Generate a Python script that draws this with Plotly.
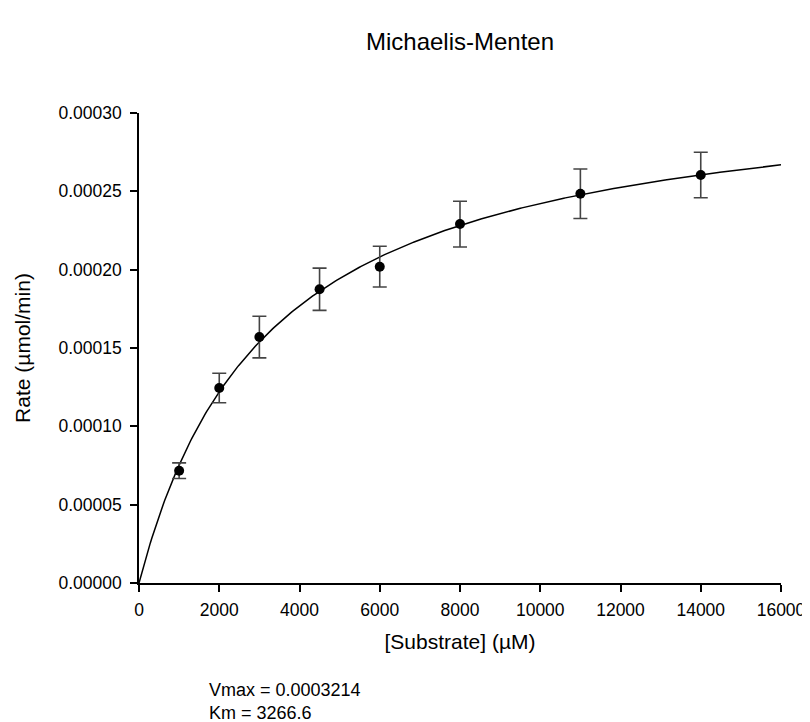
import plotly.graph_objects as go

# Data
substrate = [1000, 2000, 3000, 4500, 6000, 8000, 11000, 14000]
rate = [0.0000717, 0.0001245, 0.0001570, 0.0001875, 0.0002019, 0.0002291, 0.0002485, 0.0002604]
rate_err = [0.0000050, 0.0000094, 0.0000133, 0.0000135, 0.0000130, 0.0000146, 0.0000158, 0.0000145]

# Fitted Michaelis-Menten parameters (shown on the chart)
VMAX = 0.0003214
KM = 3266.6

x_ticks = [0, 2000, 4000, 6000, 8000, 10000, 12000, 14000, 16000]
y_ticks = [0.0, 0.00005, 0.00010, 0.00015, 0.00020, 0.00025, 0.00030]

# Fitted curve over the x-axis range
n = 400
fit_x = [16000 * i / (n - 1) for i in range(n)]
fit_y = [VMAX * s / (KM + s) for s in fit_x]

FONT = "Arial, Liberation Sans, sans-serif"

fig = go.Figure()
fig.add_trace(go.Scatter(
    x=fit_x, y=fit_y, mode="lines",
    line=dict(color="black", width=1.5),
    hoverinfo="skip", showlegend=False, cliponaxis=False,
))
fig.add_trace(go.Scatter(
    x=substrate, y=rate, mode="markers",
    marker=dict(color="black", size=10),
    error_y=dict(type="data", array=rate_err, visible=True,
                 color="#444444", thickness=1.6, width=7),
    showlegend=False, cliponaxis=False,
))

fig.update_layout(
    width=810, height=722,
    margin=dict(l=131, r=28, t=105, b=147),
    paper_bgcolor="white", plot_bgcolor="white",
    font=dict(family=FONT, color="black", size=17.5),
    title=dict(text="Michaelis-Menten", x=0.5, xref="paper", xanchor="center",
               y=1 - 34 / 722, yref="container", yanchor="middle",
               font=dict(family=FONT, size=24, color="black")),
    showlegend=False,
    annotations=[
        dict(text="Vmax = 0.0003214<br>Km = 3266.6", xref="paper", yref="paper",
             x=(200 - 131) / 651, y=(575 - 693) / 470, xanchor="left", yanchor="middle",
             align="left", showarrow=False, font=dict(family=FONT, size=18, color="black")),
    ],
)

fig.update_xaxes(
    range=[0, 16000], tickvals=x_ticks, ticktext=[str(v) for v in x_ticks],
    showgrid=False, zeroline=False, showline=True, linecolor="black", linewidth=1.5,
    ticks="outside", ticklen=7, tickwidth=1.5, tickcolor="black",
    tickfont=dict(size=17.5), ticklabelstandoff=3,
    title=dict(text="[Substrate] (µM)", font=dict(size=21), standoff=16),
)
fig.update_yaxes(
    range=[0, 0.0003], tickvals=y_ticks, ticktext=[f"{v:.5f}" for v in y_ticks],
    showgrid=False, zeroline=False, showline=True, linecolor="black", linewidth=1.5,
    ticks="outside", ticklen=7, tickwidth=1.5, tickcolor="black",
    tickfont=dict(size=17.5), ticklabelstandoff=5,
    title=dict(text="Rate (µmol/min)", font=dict(size=21), standoff=22),
)

fig.write_html("out.html")
